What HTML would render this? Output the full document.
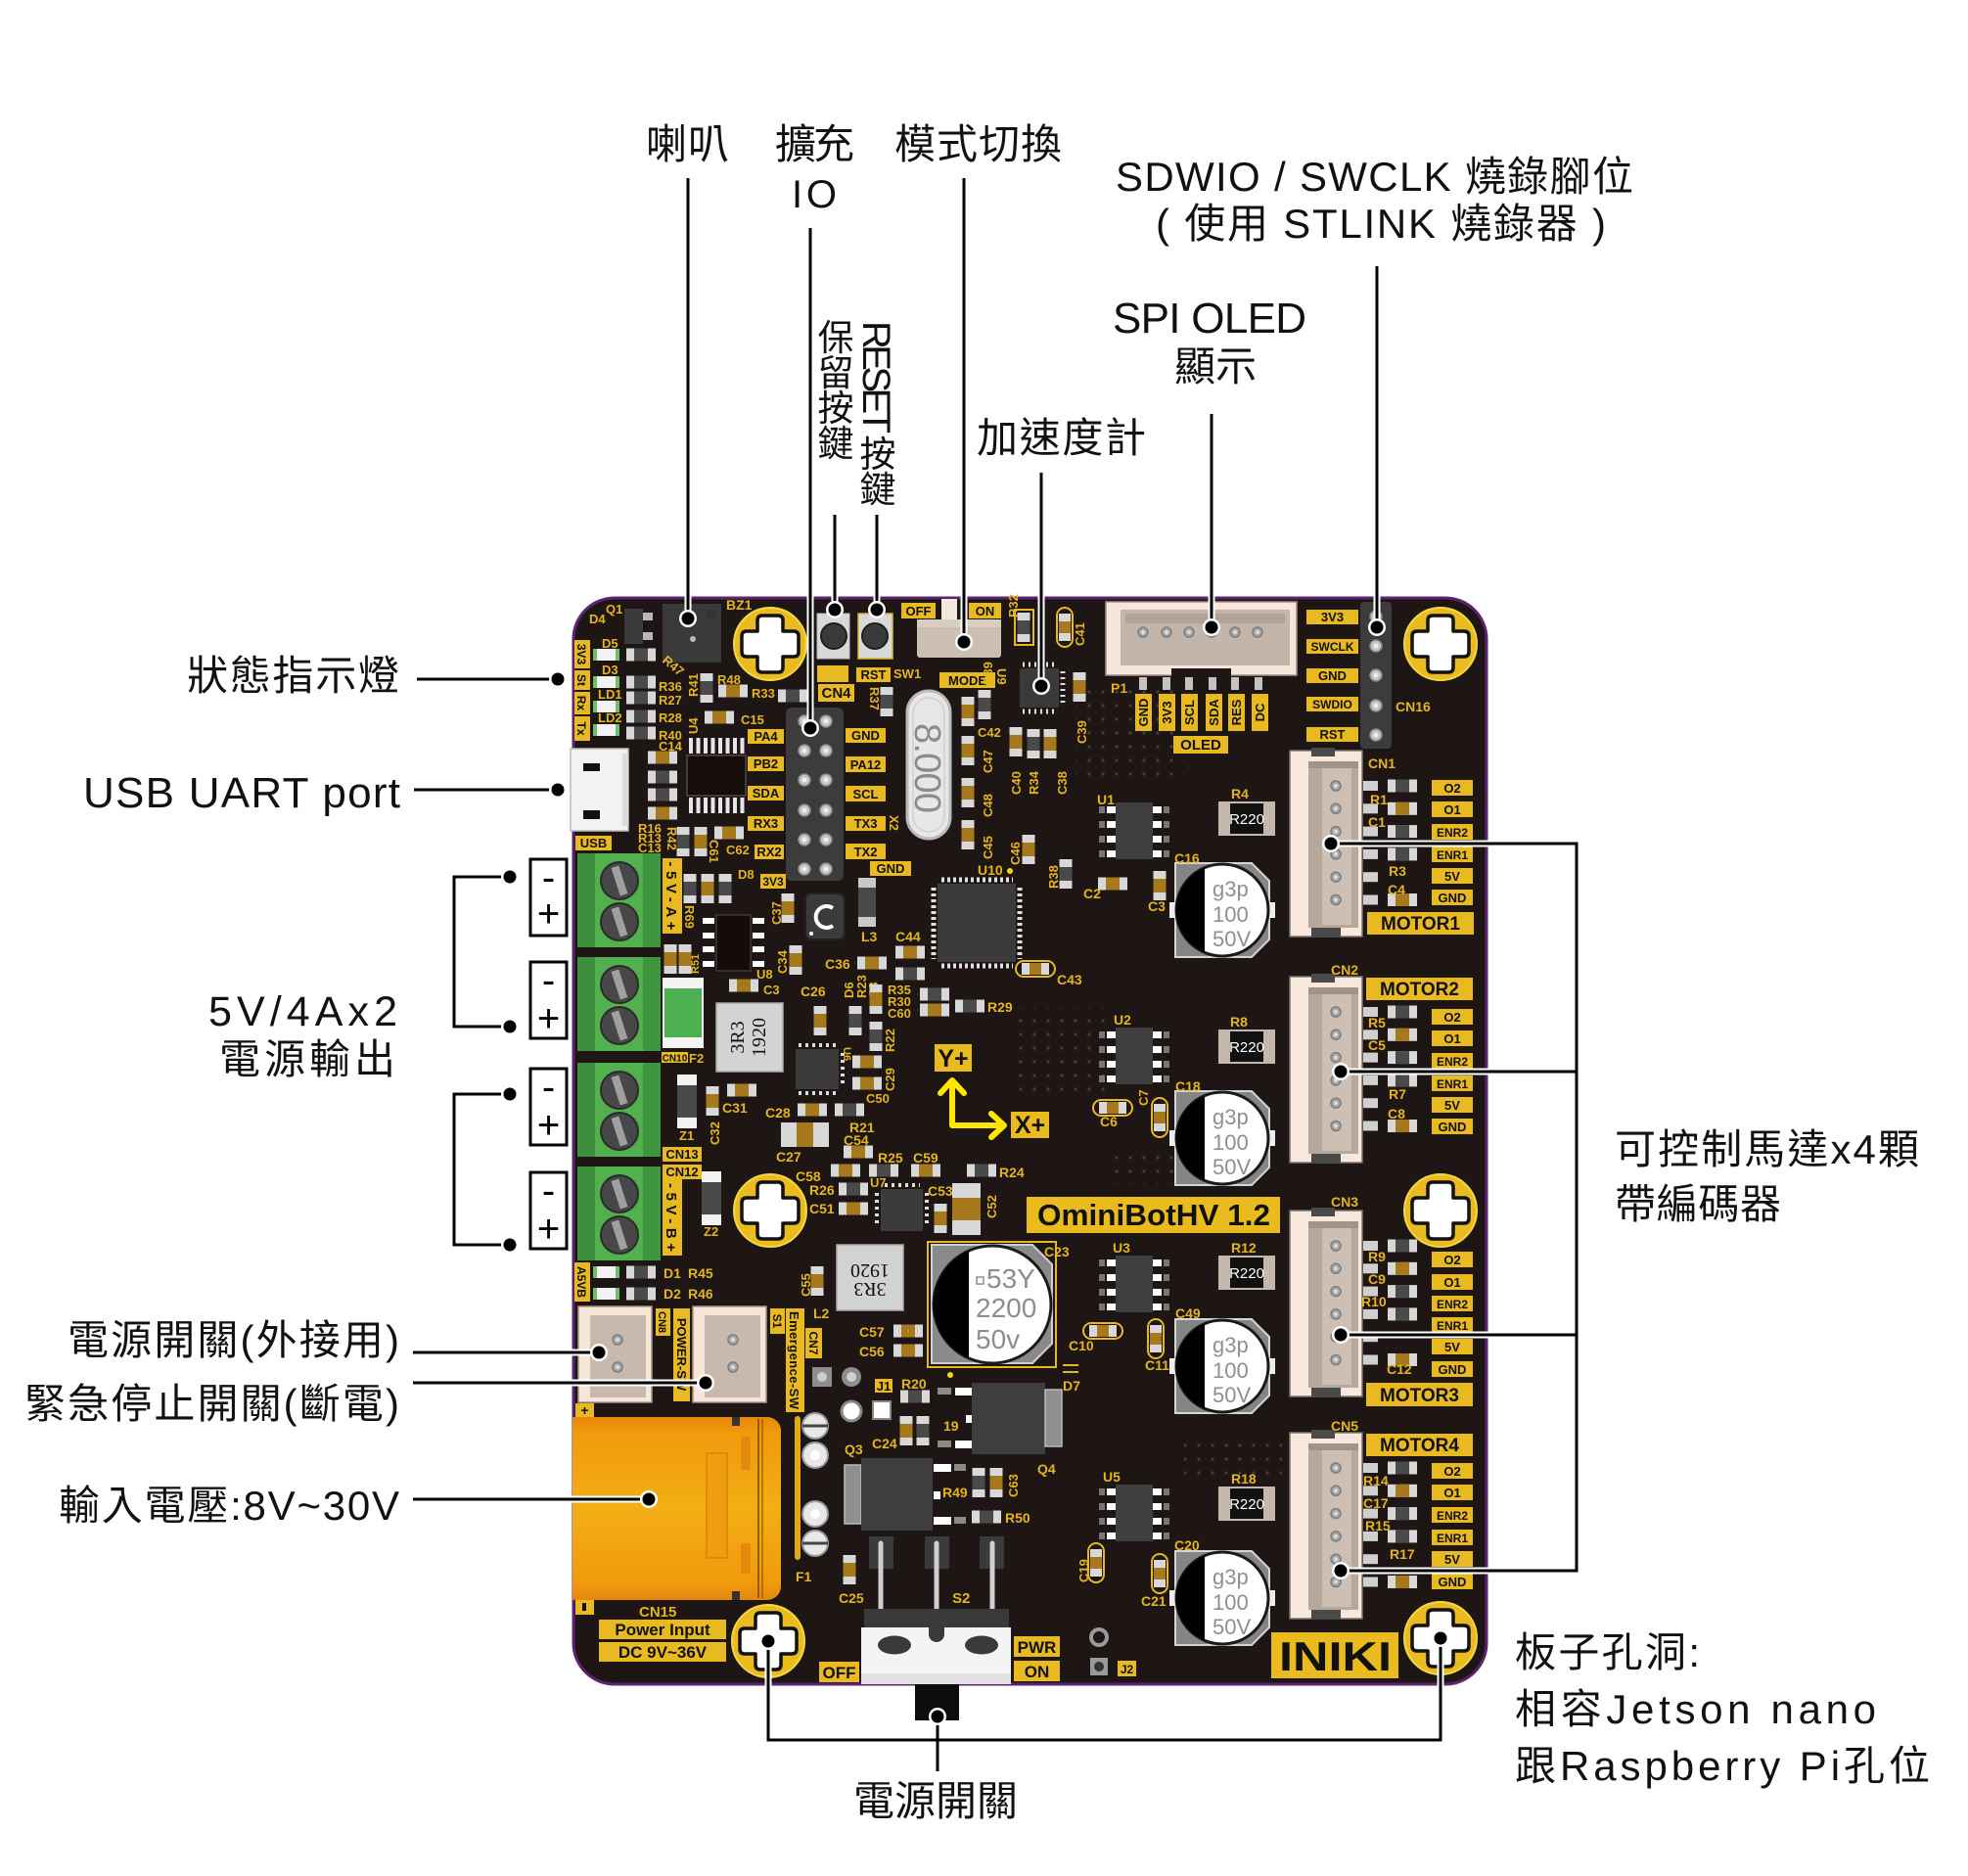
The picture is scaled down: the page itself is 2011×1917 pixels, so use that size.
<!DOCTYPE html>
<html><head><meta charset="utf-8">
<style>
html,body{margin:0;padding:0;background:#fff;}
svg{display:block;}
.lb{font-family:"Liberation Sans","Noto Sans CJK TC",sans-serif;fill:#111;}
.pk{font-family:"Liberation Sans",sans-serif;font-weight:bold;fill:#e4b421;}
.bx{font-family:"Liberation Sans",sans-serif;font-weight:bold;fill:#111;}
.yb{fill:#e8b920;}
</style></head><body>
<svg width="2011" height="1917" viewBox="0 0 2011 1917" font-size="13" xmlns="http://www.w3.org/2000/svg" xmlns:xlink="http://www.w3.org/1999/xlink">
<defs>
<g id="r"><rect x="-15" y="-6.5" width="30" height="13" fill="#d8d8d8"/><rect x="-7" y="-6.5" width="14" height="13" fill="#4a4a4a"/></g>
<g id="c"><rect x="-15" y="-6.5" width="30" height="13" fill="#d8d8d8"/><rect x="-7" y="-6.5" width="14" height="13" fill="#a67a1c"/></g>
<g id="co"><rect x="-20" y="-8" width="40" height="16" rx="8" fill="none" stroke="#e6b820" stroke-width="2"/><rect x="-14" y="-6" width="28" height="12" fill="#d8d8d8"/><rect x="-6" y="-6" width="12" height="12" fill="#a67a1c"/></g>
<g id="hole"><circle r="37" fill="#e9bb1f" stroke="#f6d645" stroke-width="2"/><path d="M-13,-24 Q-13,-29 -8,-29 H8 Q13,-29 13,-24 V-13 H24 Q29,-13 29,-8 V8 Q29,13 24,13 H13 V24 Q13,29 8,29 H-8 Q-13,29 -13,24 V13 H-24 Q-29,13 -29,8 V-8 Q-29,-13 -24,-13 H-13 Z" fill="#fff" stroke="#111" stroke-width="3.5" stroke-linejoin="round"/></g>
<g id="dot"><circle r="9" fill="#fff"/><circle r="6.5" fill="#000"/></g>
<g id="led"><rect width="27" height="12" fill="#f2f2f2"/><rect width="4" height="12" fill="#6fbf6a"/><rect x="23" width="4" height="12" fill="#6fbf6a"/></g>
<g id="tb"><rect width="85" height="96" fill="#52b04e"/><rect width="18" height="96" fill="#3b8e3c"/><rect x="67" width="18" height="96" fill="#3f9640"/>
<circle cx="43" cy="28" r="19" fill="#474747" stroke="#2b2b2b" stroke-width="2"/><rect x="39" y="13" width="8" height="30" fill="#a0a0a0" transform="rotate(-18 43 28)"/>
<circle cx="43" cy="70" r="19" fill="#474747" stroke="#2b2b2b" stroke-width="2"/><rect x="39" y="55" width="8" height="30" fill="#a0a0a0" transform="rotate(-18 43 70)"/></g>
<g id="so"><rect width="38" height="58" fill="#3f3f3f"/>
<rect x="-9" y="4" width="9" height="7" fill="#fff"/><rect x="-9" y="19" width="9" height="7" fill="#fff"/><rect x="-9" y="34" width="9" height="7" fill="#fff"/><rect x="-9" y="49" width="9" height="7" fill="#fff"/>
<rect x="-17" y="4" width="6" height="7" fill="#777"/><rect x="-17" y="19" width="6" height="7" fill="#777"/><rect x="-17" y="34" width="6" height="7" fill="#777"/><rect x="-17" y="49" width="6" height="7" fill="#777"/>
<rect x="38" y="4" width="9" height="7" fill="#fff"/><rect x="38" y="19" width="9" height="7" fill="#fff"/><rect x="38" y="34" width="9" height="7" fill="#fff"/><rect x="38" y="49" width="9" height="7" fill="#fff"/>
<rect x="49" y="4" width="6" height="7" fill="#777"/><rect x="49" y="19" width="6" height="7" fill="#777"/><rect x="49" y="34" width="6" height="7" fill="#777"/><rect x="49" y="49" width="6" height="7" fill="#777"/></g>
<g id="ec"><path d="M-48,-48 H30 L48,-30 V30 L30,48 H-48 Z" fill="#858585" stroke="#d5d5d5" stroke-width="2"/><rect x="-54" y="-8" width="7" height="16" fill="#eee"/><rect x="47" y="-8" width="7" height="16" fill="#eee"/><circle r="47" fill="#fff" stroke="#1a1a1a" stroke-width="3"/><path d="M-18,-43.4 A47,47 0 0,0 -18,43.4 Z" fill="#000"/></g>
<g id="mpin"><circle r="5" fill="#a8a8a8" stroke="#7c7c7c" stroke-width="1.5"/><circle r="2" fill="#dcdcdc"/></g>
<g id="mc"><rect x="0" y="0" width="74" height="190" fill="#f7e8db" stroke="#7d736c" stroke-width="1.5"/>
<rect x="19" y="11" width="51" height="170" fill="#b7a89c"/><rect x="33" y="14" width="30" height="164" fill="#cdbfb4"/><rect x="19" y="11" width="51" height="7" fill="#a1938a"/>
<rect x="22" y="-3" width="24" height="9" fill="#4a4a4a"/><rect x="22" y="181" width="30" height="10" fill="#4a4a4a"/>
<use href="#mpin" x="47" y="36"/><use href="#mpin" x="47" y="59.3"/><use href="#mpin" x="47" y="82.6"/><use href="#mpin" x="47" y="105.9"/><use href="#mpin" x="47" y="129.2"/><use href="#mpin" x="47" y="152.5"/>
<rect x="75" y="31" width="15" height="10" fill="#d0d0d0"/><rect x="75" y="54.3" width="15" height="10" fill="#d0d0d0"/><rect x="75" y="77.6" width="15" height="10" fill="#d0d0d0"/><rect x="75" y="100.9" width="15" height="10" fill="#d0d0d0"/><rect x="75" y="124.2" width="15" height="10" fill="#d0d0d0"/><rect x="75" y="147.5" width="15" height="10" fill="#d0d0d0"/>
<use href="#r" x="115" y="36"/><use href="#c" x="115" y="59.3"/><use href="#r" x="115" y="82.6"/><use href="#r" x="115" y="105.9"/><use href="#c" x="115" y="152.5"/></g>
<g id="pin"><circle r="6" fill="#c4c4c4" stroke="#8a8a8a" stroke-width="1.5"/><circle r="2.5" fill="#eee"/></g>
<g id="r220"><rect width="58" height="35" fill="#c4b8ac"/><rect x="12" y="2" width="34" height="31" fill="#111"/></g>
<pattern id="via" width="14" height="14" patternUnits="userSpaceOnUse"><circle cx="7" cy="7" r="1.6" fill="#463d39"/></pattern>
<linearGradient id="xt" x1="0" y1="0" x2="0" y2="1"><stop offset="0" stop-color="#e8870b"/><stop offset="0.09" stop-color="#f09a0d"/><stop offset="0.5" stop-color="#f3ae14"/><stop offset="0.91" stop-color="#f09a0d"/><stop offset="1" stop-color="#e6860b"/></linearGradient>
</defs>

<!-- ================= BOARD ================= -->
<rect x="586" y="611" width="933" height="1110" rx="42" fill="#1d1614" stroke="#5b2370" stroke-width="3"/>
<rect x="1040" y="1030" width="90" height="90" fill="url(#via)"/>
<rect x="1100" y="700" width="110" height="100" fill="url(#via)"/>
<rect x="1210" y="1470" width="100" height="40" fill="url(#via)"/>
<rect x="1130" y="1180" width="80" height="30" fill="url(#via)"/>

<!-- holes -->
<use href="#hole" x="787" y="658"/><use href="#hole" x="1472" y="658"/>
<use href="#hole" x="787" y="1237"/><use href="#hole" x="1472" y="1237"/>
<use href="#hole" x="785" y="1677"/><use href="#hole" x="1472" y="1674"/>

<!-- top-left: status LEDs, Q1, buzzer -->
<rect class="yb" x="587" y="654" width="16" height="29"/><rect class="yb" x="587" y="685" width="16" height="20"/><rect class="yb" x="587" y="707" width="16" height="23"/><rect class="yb" x="587" y="732" width="16" height="25"/>
<text class="bx" font-size="12" text-anchor="middle" transform="translate(590,668.5) rotate(90)">3V3</text>
<text class="bx" font-size="12" text-anchor="middle" transform="translate(590,695) rotate(90)">St</text>
<text class="bx" font-size="12" text-anchor="middle" transform="translate(590,718.5) rotate(90)">Rx</text>
<text class="bx" font-size="12" text-anchor="middle" transform="translate(590,744.5) rotate(90)">Tx</text>
<use href="#led" x="606" y="663"/><use href="#led" x="606" y="691"/><use href="#led" x="606" y="716"/><use href="#led" x="606" y="740"/>
<text class="pk" x="619" y="627">Q1</text><text class="pk" x="602" y="637">D4</text>
<text class="pk" x="615" y="662">D5</text><text class="pk" x="615" y="689">D3</text><text class="pk" x="611" y="714">LD1</text><text class="pk" x="611" y="738">LD2</text>
<rect x="638" y="622" width="19" height="36" fill="#3b3b3b"/><rect x="657" y="626" width="10" height="8" fill="#b8b8b8"/><rect x="657" y="646" width="10" height="8" fill="#b8b8b8"/>
<rect x="677" y="617" width="60" height="60" fill="#3a3a3a"/><circle cx="727" cy="628" r="5" fill="#333"/><circle cx="708" cy="653" r="3" fill="#bbb"/>
<text class="pk" x="742" y="623" font-size="14">BZ1</text>
<use href="#r" x="655" y="669"/><use href="#r" x="655" y="697"/><use href="#r" x="655" y="713"/><use href="#r" x="655" y="732"/><use href="#r" x="655" y="749"/>
<text class="pk" x="673" y="706">R36</text><text class="pk" x="673" y="720">R27</text><text class="pk" x="673" y="738">R28</text><text class="pk" x="673" y="756">R40</text><text class="pk" x="673" y="767">C14</text>
<text class="pk" transform="translate(676,676) rotate(40)">R47</text>
<text class="pk" transform="translate(713,712) rotate(-90)">R41</text>
<use href="#r" transform="translate(722,703) rotate(90)"/>
<text class="pk" x="733" y="699">R48</text><use href="#c" x="749" y="706"/>
<text class="pk" x="768" y="713">R33</text><use href="#r" x="810" y="711"/>
<use href="#c" x="735" y="733"/><text class="pk" x="757" y="740">C15</text>
<text class="pk" transform="translate(713,750) rotate(-90)">U4</text>
<!-- U4 chip -->
<rect x="702" y="772" width="60" height="41" fill="#150c0b" stroke="#4a4a4a" stroke-width="1.5"/>
<line x1="704" y1="762" x2="762" y2="762" stroke="#e6e6e6" stroke-width="16" stroke-dasharray="4 3.5"/>
<line x1="704" y1="823" x2="762" y2="823" stroke="#e6e6e6" stroke-width="16" stroke-dasharray="4 3.5"/>
<use href="#c" x="677" y="774"/><use href="#r" x="677" y="794"/><use href="#r" x="677" y="812"/><use href="#c" x="677" y="831"/>
<text class="pk" x="652" y="851">R16</text><text class="pk" x="652" y="861">R13</text><text class="pk" x="652" y="871">C13</text>
<text class="pk" transform="translate(682,845) rotate(90)">R42</text>
<use href="#r" transform="translate(698,860) rotate(90)"/><use href="#c" transform="translate(716,860) rotate(90)"/>
<text class="pk" transform="translate(725,858) rotate(90)">C61</text>
<use href="#c" x="745" y="851"/><text class="pk" x="742" y="873">C62</text>
<!-- USB -->
<rect x="583" y="765" width="59" height="84" fill="#f2f2f2" stroke="#bbb" stroke-width="1.5"/>
<rect x="636" y="770" width="6" height="74" fill="#dcdcdc"/>
<rect x="596" y="780" width="17" height="8" fill="#111"/><rect x="596" y="828" width="17" height="9" fill="#111"/>
<rect class="yb" x="588" y="854" width="37" height="15"/><text class="bx" x="606.5" y="866" text-anchor="middle">USB</text>

<!-- terminal blocks -->
<use href="#tb" x="590" y="872"/><use href="#tb" x="590" y="978"/><use href="#tb" x="590" y="1086"/><use href="#tb" x="590" y="1192"/>
<rect class="yb" x="677" y="877" width="20" height="77"/><text class="bx" font-size="15" text-anchor="middle" textLength="70" transform="translate(681,915.5) rotate(90)">-5V-A+</text>
<rect class="yb" x="677" y="1205" width="20" height="78"/><text class="bx" font-size="15" text-anchor="middle" textLength="70" transform="translate(681,1244) rotate(90)">-5V-B+</text>
<rect class="yb" x="677" y="1172" width="40" height="15"/><text class="bx" x="697" y="1184" text-anchor="middle">CN13</text>
<rect class="yb" x="677" y="1190" width="40" height="15"/><text class="bx" x="697" y="1202" text-anchor="middle">CN12</text>
<rect class="yb" x="676" y="1075" width="27" height="11"/><text class="bx" x="689.5" y="1084.5" text-anchor="middle" font-size="10">CN10</text><text class="pk" x="704" y="1086">F2</text>

<!-- D8 area -->
<use href="#r" transform="translate(705,908) rotate(90)"/><use href="#c" transform="translate(723,908) rotate(90)"/><use href="#r" transform="translate(741,908) rotate(90)"/>
<text class="pk" x="754" y="898">D8</text>
<rect class="yb" x="777" y="893" width="26" height="15"/><text class="bx" x="790" y="905" text-anchor="middle" font-size="12">3V3</text>
<text class="pk" transform="translate(700,925) rotate(90)">R69</text>
<use href="#c" transform="translate(685,980) rotate(90)"/><use href="#c" transform="translate(700,980) rotate(90)"/>
<rect x="732" y="935" width="35" height="57" fill="#150b0a" stroke="#3a3a3a" stroke-width="1.5"/>
<rect x="718" y="938" width="12" height="6" fill="#fff"/><rect x="718" y="953" width="12" height="6" fill="#fff"/><rect x="718" y="967" width="12" height="6" fill="#fff"/><rect x="718" y="982" width="12" height="6" fill="#fff"/>
<rect x="769" y="938" width="12" height="6" fill="#fff"/><rect x="769" y="953" width="12" height="6" fill="#fff"/><rect x="769" y="967" width="12" height="6" fill="#fff"/><rect x="769" y="982" width="12" height="6" fill="#fff"/>
<text class="pk" x="773" y="1000">U8</text><use href="#c" x="760" y="1007"/><text class="pk" x="780" y="1016">C3</text>
<text class="pk" transform="translate(714,995) rotate(-90)" font-size="11">R51</text>
<!-- F2 green fuse -->
<rect x="678" y="1000" width="40" height="70" fill="#4caf50" stroke="#eee" stroke-width="2"/><rect x="678" y="1000" width="40" height="10" fill="#f4f4f4"/><rect x="678" y="1060" width="40" height="10" fill="#f4f4f4"/>
<!-- L1 -->
<rect x="732" y="1025" width="68" height="70" fill="#d3d3d3" stroke="#aaa" stroke-width="1.5"/>
<text x="0" y="0" font-family="Liberation Serif, serif" font-size="20" fill="#111" text-anchor="middle" transform="translate(760,1060) rotate(-90)">3R3</text>
<text x="0" y="0" font-family="Liberation Serif, serif" font-size="20" fill="#111" text-anchor="middle" transform="translate(782,1060) rotate(-90)">1920</text>

<!-- header CN4 -->
<rect x="803" y="723" width="59" height="177" rx="6" fill="#3c3c3c"/>
<use href="#pin" x="822" y="737"/><use href="#pin" x="844" y="737"/><use href="#pin" x="822" y="767"/><use href="#pin" x="844" y="767"/>
<use href="#pin" x="822" y="797"/><use href="#pin" x="844" y="797"/><use href="#pin" x="822" y="828"/><use href="#pin" x="844" y="828"/>
<use href="#pin" x="822" y="858"/><use href="#pin" x="844" y="858"/><use href="#pin" x="822" y="888"/><use href="#pin" x="844" y="888"/>
<rect class="yb" x="764" y="745" width="37" height="15"/><text class="bx" x="782.5" y="757" text-anchor="middle">PA4</text>
<rect class="yb" x="764" y="773" width="37" height="15"/><text class="bx" x="782.5" y="785" text-anchor="middle">PB2</text>
<rect class="yb" x="764" y="803" width="37" height="15"/><text class="bx" x="782.5" y="815" text-anchor="middle">SDA</text>
<rect class="yb" x="764" y="834" width="37" height="15"/><text class="bx" x="782.5" y="846" text-anchor="middle">RX3</text>
<rect class="yb" x="771" y="863" width="30" height="15"/><text class="bx" x="786" y="875" text-anchor="middle">RX2</text>
<rect class="yb" x="864" y="744" width="41" height="15"/><text class="bx" x="884.5" y="756" text-anchor="middle">GND</text>
<rect class="yb" x="864" y="773" width="41" height="16"/><text class="bx" x="884.5" y="786" text-anchor="middle">PA12</text>
<rect class="yb" x="864" y="803" width="41" height="16"/><text class="bx" x="884.5" y="816" text-anchor="middle">SCL</text>
<rect class="yb" x="864" y="834" width="41" height="15"/><text class="bx" x="884.5" y="846" text-anchor="middle">TX3</text>
<rect class="yb" x="864" y="862" width="41" height="16"/><text class="bx" x="884.5" y="875" text-anchor="middle">TX2</text>
<rect class="yb" x="889" y="880" width="42" height="15"/><text class="bx" x="910" y="892" text-anchor="middle">GND</text>
<text class="pk" transform="translate(909,833) rotate(90)">X2</text>
<!-- buttons -->
<rect x="835" y="627" width="33" height="46" fill="#d8d8d8" stroke="#bdbdbd"/><circle cx="852" cy="650" r="13" fill="#3a3a3a" stroke="#1e1e1e" stroke-width="2"/>
<rect x="877" y="627" width="35" height="46" fill="#d8d8d8" stroke="#d8b730" stroke-width="1.5"/><circle cx="894" cy="650" r="13" fill="#3a3a3a" stroke="#1e1e1e" stroke-width="2"/>
<rect class="yb" x="835" y="680" width="32" height="17"/>
<rect class="yb" x="875" y="682" width="35" height="15"/><text class="bx" x="892.5" y="694" text-anchor="middle">RST</text><text class="pk" x="913" y="693">SW1</text>
<rect class="yb" x="836" y="699" width="37" height="18"/><text class="bx" x="854.5" y="713" text-anchor="middle" font-size="15">CN4</text>
<use href="#r" transform="translate(906,717) rotate(90)"/><text class="pk" transform="translate(889,702) rotate(90)">R37</text>
<!-- MODE switch -->
<rect class="yb" x="921" y="616" width="35" height="16"/><text class="bx" x="938.5" y="629" text-anchor="middle">OFF</text>
<rect class="yb" x="990" y="616" width="33" height="16"/><text class="bx" x="1006.5" y="629" text-anchor="middle">ON</text>
<rect x="962" y="612" width="16" height="22" fill="#f3e8dc"/>
<rect x="937" y="633" width="86" height="39" rx="3" fill="#cbbfb2"/><rect x="937" y="633" width="86" height="8" fill="#d8cdc1"/>
<rect class="yb" x="960" y="687" width="57" height="16"/><text class="bx" x="988.5" y="700" text-anchor="middle">MODE</text>
<text class="pk" transform="translate(1019,683) rotate(90)">U9</text>
<!-- crystal -->
<rect x="927" y="706" width="44" height="151" rx="22" fill="#e7e7e7" stroke="#b9b9b9" stroke-width="3"/>
<rect x="933" y="713" width="32" height="137" rx="16" fill="none" stroke="#d0d0d0" stroke-width="1.5"/>
<text font-family="Liberation Sans, sans-serif" font-size="38" fill="#8c8c8c" textLength="92" transform="translate(935,739) rotate(90)">8.000</text>
<use href="#c" transform="translate(989,727) rotate(90)"/><use href="#c" transform="translate(989,767) rotate(90)"/><use href="#c" transform="translate(989,810) rotate(90)"/><use href="#c" transform="translate(989,853) rotate(90)"/>
<use href="#r" transform="translate(1006,720) rotate(90)"/>
<text class="pk" x="999" y="753">C42</text>
<text class="pk" transform="translate(1014,700) rotate(-90)">R39</text>
<text class="pk" transform="translate(1014,790) rotate(-90)">C47</text>
<text class="pk" transform="translate(1014,835) rotate(-90)">C48</text>
<text class="pk" transform="translate(1014,878) rotate(-90)">C45</text>
<use href="#c" transform="translate(1038,758) rotate(90)"/><use href="#r" transform="translate(1056,760) rotate(90)"/><use href="#c" transform="translate(1073,760) rotate(90)"/>
<text class="pk" transform="translate(1043,812) rotate(-90)">C40</text><text class="pk" transform="translate(1061,812) rotate(-90)">R34</text><text class="pk" transform="translate(1090,812) rotate(-90)">C38</text>
<use href="#c" transform="translate(1051,868) rotate(90)"/><text class="pk" transform="translate(1042,884) rotate(-90)">C46</text>
<use href="#r" transform="translate(1089,893) rotate(90)"/><text class="pk" transform="translate(1081,908) rotate(-90)">R38</text>
<!-- R32 C41 U9 -->
<rect x="1037" y="623" width="19" height="36" fill="none" stroke="#e6b820" stroke-width="2"/>
<use href="#r" transform="translate(1046,641) rotate(90)"/><text class="pk" transform="translate(1040,631) rotate(-90)">R32</text>
<use href="#co" transform="translate(1088,641) rotate(90)"/><text class="pk" transform="translate(1108,660) rotate(-90)">C41</text>
<rect x="1042" y="683" width="40" height="40" fill="#3a3a3a"/>
<line x1="1045" y1="679" x2="1080" y2="679" stroke="#ddd" stroke-width="5" stroke-dasharray="2 4"/><line x1="1045" y1="727" x2="1080" y2="727" stroke="#ddd" stroke-width="5" stroke-dasharray="2 4"/>
<line x1="1086" y1="686" x2="1086" y2="720" stroke="#ddd" stroke-width="5" stroke-dasharray="2 4"/>
<use href="#c" transform="translate(1103,702) rotate(90)"/><text class="pk" transform="translate(1110,760) rotate(-90)">C39</text>
<!-- MCU U10 -->
<text class="pk" x="999" y="894" font-size="14">U10</text><circle cx="1032" cy="890" r="3" fill="#f5d80a"/>
<rect x="958" y="903" width="80" height="80" fill="#3b3b3b"/>
<line x1="962" y1="899" x2="1035" y2="899" stroke="#e0e0e0" stroke-width="5" stroke-dasharray="3 3"/>
<line x1="962" y1="987" x2="1035" y2="987" stroke="#e0e0e0" stroke-width="5" stroke-dasharray="3 3"/>
<line x1="954" y1="907" x2="954" y2="980" stroke="#e0e0e0" stroke-width="5" stroke-dasharray="3 3"/>
<line x1="1042" y1="907" x2="1042" y2="980" stroke="#e0e0e0" stroke-width="5" stroke-dasharray="3 3"/>
<!-- C inductor, L3 -->
<use href="#c" transform="translate(805,928) rotate(90)"/><text class="pk" transform="translate(798,945) rotate(-90)">C37</text>
<rect x="823" y="913" width="40" height="47" rx="6" fill="#3b3b3b" stroke="#222" stroke-width="2"/>
<path d="M851,928 A11,11 0 1,0 851,946" fill="none" stroke="#fff" stroke-width="4"/><circle cx="829" cy="954" r="2" fill="#fff"/>
<rect x="877" y="897" width="18" height="50" fill="#c9c9c9"/><rect x="877" y="907" width="18" height="30" fill="#4a4a4a"/><text class="pk" x="880" y="962" font-size="14">L3</text>
<use href="#c" x="930" y="973"/><use href="#r" x="930" y="995"/><text class="pk" x="915" y="962" font-size="14">C44</text>
<use href="#co" x="1058" y="990"/><text class="pk" x="1080" y="1006" font-size="14">C43</text>
<!-- middle area -->
<use href="#c" transform="translate(813,981) rotate(90)"/><text class="pk" transform="translate(804,995) rotate(-90)">C34</text>
<use href="#c" x="891" y="984"/><text class="pk" x="843" y="990" font-size="14">C36</text>
<text class="pk" x="818" y="1018" font-size="14">C26</text>
<use href="#c" transform="translate(838,1043) rotate(90)"/><use href="#r" transform="translate(874,1043) rotate(90)"/>
<text class="pk" transform="translate(872,1020) rotate(-90)">D6</text><text class="pk" transform="translate(885,1020) rotate(-90)">R23</text><text class="pk" transform="translate(897,1020) rotate(-90)">C3</text>
<use href="#c" transform="translate(895,1021) rotate(90)"/><use href="#r" transform="translate(895,1059) rotate(90)"/>
<text class="pk" x="907" y="1016">R35</text><text class="pk" x="907" y="1028">R30</text><text class="pk" x="907" y="1040">C60</text>
<use href="#r" x="955" y="1016"/><use href="#c" x="955" y="1032"/><use href="#r" x="991" y="1028"/><text class="pk" x="1009" y="1034" font-size="14">R29</text>
<text class="pk" transform="translate(914,1075) rotate(-90)">R22</text><text class="pk" transform="translate(914,1115) rotate(-90)">C29</text>
<rect x="813" y="1072" width="44" height="41" fill="#3b3b3b"/>
<line x1="816" y1="1068" x2="854" y2="1068" stroke="#ddd" stroke-width="4" stroke-dasharray="3 4"/><line x1="816" y1="1117" x2="854" y2="1117" stroke="#ddd" stroke-width="4" stroke-dasharray="3 4"/>
<line x1="861" y1="1076" x2="861" y2="1110" stroke="#ddd" stroke-width="4" stroke-dasharray="3 4"/>
<text class="pk" transform="translate(862,1070) rotate(90)" font-size="11">U6</text>
<use href="#c" x="886" y="1085"/><use href="#c" x="886" y="1107"/><text class="pk" x="885" y="1127">C50</text>
<rect x="692" y="1098" width="20" height="55" fill="#4a4a4a"/><rect x="692" y="1098" width="20" height="11" fill="#f2f2f2"/><rect x="692" y="1142" width="20" height="11" fill="#f2f2f2"/><text class="pk" x="694" y="1165">Z1</text>
<rect x="717" y="1197" width="20" height="55" fill="#4a4a4a"/><rect x="717" y="1197" width="20" height="11" fill="#f2f2f2"/><rect x="717" y="1241" width="20" height="11" fill="#f2f2f2"/><text class="pk" x="719" y="1263">Z2</text>
<use href="#c" transform="translate(728,1125) rotate(90)"/><use href="#c" x="758" y="1114"/><text class="pk" x="738" y="1137" font-size="14">C31</text>
<text class="pk" transform="translate(735,1170) rotate(-90)">C32</text>
<text class="pk" x="782" y="1142" font-size="14">C28</text><use href="#c" x="830" y="1134"/><use href="#r" x="868" y="1134"/>
<rect x="798" y="1147" width="49" height="25" fill="#d8d8d8"/><rect x="814" y="1147" width="17" height="25" fill="#a67a1c"/>
<text class="pk" x="868" y="1157" font-size="14">R21</text><text class="pk" x="862" y="1170" font-size="14">C54</text>
<use href="#c" x="877" y="1177"/><use href="#c" x="864" y="1196"/><use href="#r" x="903" y="1196"/><use href="#c" x="946" y="1196"/><use href="#r" x="1003" y="1196"/>
<text class="pk" x="897" y="1188" font-size="14">R25</text><text class="pk" x="933" y="1188" font-size="14">C59</text><text class="pk" x="1021" y="1203" font-size="14">R24</text>
<text class="pk" x="793" y="1187" font-size="14">C27</text><text class="pk" x="813" y="1207" font-size="14">C58</text>
<use href="#r" x="872" y="1215"/><use href="#c" x="872" y="1235"/><text class="pk" x="827" y="1221" font-size="14">R26</text><text class="pk" x="827" y="1240" font-size="14">C51</text>
<text class="pk" x="889" y="1213">U7</text>
<rect x="900" y="1215" width="43" height="43" fill="#3b3b3b"/>
<line x1="904" y1="1211" x2="940" y2="1211" stroke="#ddd" stroke-width="4" stroke-dasharray="3 4"/><line x1="896" y1="1219" x2="896" y2="1254" stroke="#ddd" stroke-width="4" stroke-dasharray="3 4"/><line x1="947" y1="1219" x2="947" y2="1254" stroke="#ddd" stroke-width="4" stroke-dasharray="3 4"/>
<use href="#c" transform="translate(961,1245) rotate(90)"/><text class="pk" x="948" y="1222" font-size="14">C53</text>
<rect x="973" y="1209" width="29" height="53" fill="#d8d8d8"/><rect x="973" y="1224" width="29" height="23" fill="#a67a1c"/>
<text class="pk" transform="translate(1018,1245) rotate(-90)">C52</text>
<!-- Y+ X+ -->
<path d="M973,1104 V1150 H1024" fill="none" stroke="#ffe600" stroke-width="6" stroke-linejoin="round"/>
<path d="M961,1117 L973,1104 L985,1117" fill="none" stroke="#ffe600" stroke-width="6" stroke-linecap="round" stroke-linejoin="round"/>
<path d="M1013,1138 L1026,1150 L1013,1162" fill="none" stroke="#ffe600" stroke-width="6" stroke-linecap="round" stroke-linejoin="round"/>
<rect x="955" y="1067" width="38" height="28" fill="#e9bb1e"/><text class="bx" x="974" y="1090" text-anchor="middle" font-size="25">Y+</text>
<rect x="1033" y="1136" width="39" height="27" fill="#e9bb1e"/><text class="bx" x="1052.5" y="1158" text-anchor="middle" font-size="25">X+</text>

<!-- OLED connector -->
<rect x="1130" y="615" width="195" height="75" fill="#f6e7da" stroke="#9e9088" stroke-width="1.5"/>
<rect x="1145" y="623" width="173" height="57" fill="#c4b5aa"/><rect x="1150" y="627" width="163" height="10" fill="#b1a297"/>
<rect x="1197" y="683" width="61" height="8" fill="#1d1614"/>
<use href="#mpin" x="1168" y="646"/><use href="#mpin" x="1192" y="646"/><use href="#mpin" x="1215" y="646"/><use href="#mpin" x="1238" y="646"/><use href="#mpin" x="1262" y="646"/><use href="#mpin" x="1285" y="646"/>
<rect x="1164" y="692" width="8" height="13" fill="#c3c3c3"/><rect x="1188" y="692" width="8" height="13" fill="#c3c3c3"/><rect x="1211" y="692" width="8" height="13" fill="#c3c3c3"/><rect x="1235" y="692" width="8" height="13" fill="#c3c3c3"/><rect x="1258" y="692" width="8" height="13" fill="#c3c3c3"/><rect x="1282" y="692" width="8" height="13" fill="#c3c3c3"/>
<rect class="yb" x="1160" y="709" width="17" height="38"/><text class="bx" text-anchor="middle" transform="translate(1173,728) rotate(-90)">GND</text>
<rect class="yb" x="1184" y="709" width="17" height="38"/><text class="bx" text-anchor="middle" transform="translate(1197,728) rotate(-90)">3V3</text>
<rect class="yb" x="1207" y="709" width="17" height="38"/><text class="bx" text-anchor="middle" transform="translate(1220,728) rotate(-90)">SCL</text>
<rect class="yb" x="1232" y="709" width="17" height="38"/><text class="bx" text-anchor="middle" transform="translate(1245,728) rotate(-90)">SDA</text>
<rect class="yb" x="1255" y="709" width="17" height="38"/><text class="bx" text-anchor="middle" transform="translate(1268,728) rotate(-90)">RES</text>
<rect class="yb" x="1279" y="709" width="17" height="38"/><text class="bx" text-anchor="middle" transform="translate(1292,728) rotate(-90)">DC</text>
<rect class="yb" x="1199" y="752" width="56" height="18"/><text class="bx" x="1227" y="766" text-anchor="middle" font-size="15">OLED</text>
<text class="pk" x="1135" y="708" font-size="14">P1</text>
<!-- CN16 -->
<rect x="1390" y="615" width="32" height="150" rx="4" fill="#3c3c3c"/>
<use href="#pin" x="1406" y="630"/><use href="#pin" x="1406" y="660"/><use href="#pin" x="1406" y="690"/><use href="#pin" x="1406" y="721"/><use href="#pin" x="1406" y="751"/>
<rect class="yb" x="1335" y="623" width="53" height="15"/><text class="bx" x="1361.5" y="635" text-anchor="middle">3V3</text>
<rect class="yb" x="1335" y="653" width="53" height="15"/><text class="bx" x="1361.5" y="665" text-anchor="middle" font-size="12">SWCLK</text>
<rect class="yb" x="1335" y="683" width="53" height="15"/><text class="bx" x="1361.5" y="695" text-anchor="middle">GND</text>
<rect class="yb" x="1335" y="712" width="53" height="15"/><text class="bx" x="1361.5" y="724" text-anchor="middle" font-size="12">SWDIO</text>
<rect class="yb" x="1335" y="743" width="53" height="15"/><text class="bx" x="1361.5" y="755" text-anchor="middle">RST</text>
<text class="pk" x="1426" y="727" font-size="14">CN16</text>

<!-- motor sections -->
<use href="#mc" x="1318" y="767"/><use href="#mc" x="1318" y="998"/><use href="#mc" x="1318" y="1237"/><use href="#mc" x="1318" y="1464"/>
<text class="pk" x="1398" y="785" font-size="14">CN1</text><text class="pk" x="1360" y="996" font-size="14">CN2</text><text class="pk" x="1360" y="1233" font-size="14">CN3</text><text class="pk" x="1360" y="1462" font-size="14">CN5</text>
<text class="pk" x="1400" y="822" font-size="14">R1</text><text class="pk" x="1398" y="845" font-size="14">C1</text><text class="pk" x="1419" y="895" font-size="14">R3</text><text class="pk" x="1418" y="914" font-size="14">C4</text>
<text class="pk" x="1398" y="1050" font-size="14">R5</text><text class="pk" x="1398" y="1073" font-size="14">C5</text><text class="pk" x="1419" y="1123" font-size="14">R7</text><text class="pk" x="1418" y="1143" font-size="14">C8</text>
<text class="pk" x="1398" y="1289" font-size="14">R9</text><text class="pk" x="1398" y="1312" font-size="14">C9</text><text class="pk" x="1391" y="1335" font-size="14">R10</text><text class="pk" x="1417" y="1404" font-size="14">C12</text>
<text class="pk" x="1393" y="1518" font-size="14">R14</text><text class="pk" x="1393" y="1541" font-size="14">C17</text><text class="pk" x="1395" y="1564" font-size="14">R15</text><text class="pk" x="1420" y="1593" font-size="14">R17</text>
<!-- motor label boxes -->
<g>
<rect class="yb" x="1463" y="797" width="42" height="16"/><text class="bx" x="1484" y="810" text-anchor="middle">O2</text>
<rect class="yb" x="1463" y="819" width="42" height="16"/><text class="bx" x="1484" y="832" text-anchor="middle">O1</text>
<rect class="yb" x="1463" y="842" width="42" height="16"/><text class="bx" x="1484" y="855" text-anchor="middle" font-size="12">ENR2</text>
<rect class="yb" x="1463" y="865" width="42" height="16"/><text class="bx" x="1484" y="878" text-anchor="middle" font-size="12">ENR1</text>
<rect class="yb" x="1463" y="887" width="42" height="16"/><text class="bx" x="1484" y="900" text-anchor="middle">5V</text>
<rect class="yb" x="1463" y="909" width="42" height="16"/><text class="bx" x="1484" y="922" text-anchor="middle">GND</text>
<rect class="yb" x="1397" y="932" width="109" height="23"/><text class="bx" x="1451.5" y="950" text-anchor="middle" font-size="19">MOTOR1</text>

<rect class="yb" x="1396" y="999" width="109" height="23"/><text class="bx" x="1450.5" y="1017" text-anchor="middle" font-size="19">MOTOR2</text>
<rect class="yb" x="1463" y="1031" width="42" height="16"/><text class="bx" x="1484" y="1044" text-anchor="middle">O2</text>
<rect class="yb" x="1463" y="1053" width="42" height="16"/><text class="bx" x="1484" y="1066" text-anchor="middle">O1</text>
<rect class="yb" x="1463" y="1076" width="42" height="16"/><text class="bx" x="1484" y="1089" text-anchor="middle" font-size="12">ENR2</text>
<rect class="yb" x="1463" y="1099" width="42" height="16"/><text class="bx" x="1484" y="1112" text-anchor="middle" font-size="12">ENR1</text>
<rect class="yb" x="1463" y="1121" width="42" height="16"/><text class="bx" x="1484" y="1134" text-anchor="middle">5V</text>
<rect class="yb" x="1463" y="1143" width="42" height="16"/><text class="bx" x="1484" y="1156" text-anchor="middle">GND</text>

<rect class="yb" x="1463" y="1279" width="42" height="16"/><text class="bx" x="1484" y="1292" text-anchor="middle">O2</text>
<rect class="yb" x="1463" y="1302" width="42" height="16"/><text class="bx" x="1484" y="1315" text-anchor="middle">O1</text>
<rect class="yb" x="1463" y="1324" width="42" height="16"/><text class="bx" x="1484" y="1337" text-anchor="middle" font-size="12">ENR2</text>
<rect class="yb" x="1463" y="1346" width="42" height="16"/><text class="bx" x="1484" y="1359" text-anchor="middle" font-size="12">ENR1</text>
<rect class="yb" x="1463" y="1368" width="42" height="16"/><text class="bx" x="1484" y="1381" text-anchor="middle">5V</text>
<rect class="yb" x="1463" y="1391" width="42" height="16"/><text class="bx" x="1484" y="1404" text-anchor="middle">GND</text>
<rect class="yb" x="1396" y="1413" width="109" height="24"/><text class="bx" x="1450.5" y="1432" text-anchor="middle" font-size="19">MOTOR3</text>

<rect class="yb" x="1396" y="1465" width="109" height="23"/><text class="bx" x="1450.5" y="1483" text-anchor="middle" font-size="19">MOTOR4</text>
<rect class="yb" x="1463" y="1495" width="42" height="16"/><text class="bx" x="1484" y="1508" text-anchor="middle">O2</text>
<rect class="yb" x="1463" y="1517" width="42" height="16"/><text class="bx" x="1484" y="1530" text-anchor="middle">O1</text>
<rect class="yb" x="1463" y="1540" width="42" height="16"/><text class="bx" x="1484" y="1553" text-anchor="middle" font-size="12">ENR2</text>
<rect class="yb" x="1463" y="1563" width="42" height="16"/><text class="bx" x="1484" y="1576" text-anchor="middle" font-size="12">ENR1</text>
<rect class="yb" x="1463" y="1585" width="42" height="16"/><text class="bx" x="1484" y="1598" text-anchor="middle">5V</text>
<rect class="yb" x="1463" y="1608" width="42" height="16"/><text class="bx" x="1484" y="1621" text-anchor="middle">GND</text>
</g>
<!-- drivers -->
<use href="#so" x="1140" y="820"/><use href="#so" x="1140" y="1050"/><use href="#so" x="1140" y="1283"/><use href="#so" x="1140" y="1517"/>
<text class="pk" x="1121" y="822" font-size="14">U1</text><text class="pk" x="1138" y="1047" font-size="14">U2</text><text class="pk" x="1137" y="1280" font-size="14">U3</text><text class="pk" x="1127" y="1514" font-size="14">U5</text>
<use href="#r220" x="1245" y="819"/><use href="#r220" x="1245" y="1052"/><use href="#r220" x="1245" y="1283"/><use href="#r220" x="1245" y="1519"/>
<g font-family="Liberation Sans, sans-serif" font-size="15" fill="#fff" text-anchor="middle">
<text x="1274" y="842">R220</text><text x="1274" y="1075">R220</text><text x="1274" y="1306">R220</text><text x="1274" y="1542">R220</text></g>
<text class="pk" x="1258" y="816" font-size="14">R4</text><text class="pk" x="1257" y="1049" font-size="14">R8</text><text class="pk" x="1258" y="1280" font-size="14">R12</text><text class="pk" x="1258" y="1516" font-size="14">R18</text>
<!-- electrolytic caps -->
<use href="#ec" x="1249" y="930"/><use href="#ec" x="1249" y="1163"/><use href="#ec" x="1249" y="1396"/><use href="#ec" x="1249" y="1633"/>
<g font-family="Liberation Sans, sans-serif" font-size="22" fill="#8f8f8f">
<text x="1239" y="916">g3p</text><text x="1239" y="942">100</text><text x="1239" y="967">50V</text>
<text x="1239" y="1149">g3p</text><text x="1239" y="1175">100</text><text x="1239" y="1200">50V</text>
<text x="1239" y="1382">g3p</text><text x="1239" y="1408">100</text><text x="1239" y="1433">50V</text>
<text x="1239" y="1619">g3p</text><text x="1239" y="1645">100</text><text x="1239" y="1670">50V</text></g>
<text class="pk" x="1200" y="882" font-size="14">C16</text><text class="pk" x="1201" y="1115" font-size="14">C18</text><text class="pk" x="1201" y="1347" font-size="14">C49</text><text class="pk" x="1200" y="1584" font-size="14">C20</text>
<use href="#c" x="1137" y="903"/><text class="pk" x="1107" y="918" font-size="14">C2</text>
<use href="#c" transform="translate(1185,905) rotate(90)"/><text class="pk" x="1173" y="931" font-size="14">C3</text>
<use href="#co" x="1137" y="1132"/><text class="pk" x="1124" y="1151" font-size="14">C6</text>
<use href="#co" transform="translate(1185,1142) rotate(90)"/><text class="pk" transform="translate(1173,1130) rotate(-90)">C7</text>
<use href="#co" x="1127" y="1360"/><text class="pk" x="1092" y="1380" font-size="14">C10</text>
<use href="#co" transform="translate(1181,1368) rotate(90)"/><text class="pk" x="1170" y="1400" font-size="14">C11</text>
<use href="#co" transform="translate(1120,1597) rotate(90)"/><text class="pk" transform="translate(1112,1617) rotate(-90)">C19</text>
<use href="#co" transform="translate(1185,1608) rotate(90)"/><text class="pk" x="1166" y="1641" font-size="14">C21</text>
<!-- OminiBotHV -->
<rect x="1049" y="1223" width="259" height="37" fill="#e9bb1e"/>
<text class="bx" x="1060" y="1252" font-size="31" textLength="238" lengthAdjust="spacingAndGlyphs">OminiBotHV 1.2</text>

<!-- bottom-left: D1/D2, connectors, XT60 -->
<rect class="yb" x="587" y="1290" width="16" height="40"/><text class="bx" font-size="12" text-anchor="middle" transform="translate(590,1310) rotate(90)">A5VB</text>
<use href="#led" x="606" y="1294"/><use href="#led" x="606" y="1316"/>
<use href="#r" x="655" y="1300"/><use href="#r" x="655" y="1322"/>
<text class="pk" x="678" y="1306" font-size="14">D1</text><text class="pk" x="703" y="1306" font-size="14">R45</text>
<text class="pk" x="678" y="1327" font-size="14">D2</text><text class="pk" x="703" y="1327" font-size="14">R46</text>
<rect x="591" y="1335" width="75" height="98" fill="#f5e6d8" stroke="#a39588" stroke-width="1.5"/><rect x="603" y="1344" width="57" height="84" fill="#c7b9ad"/>
<use href="#mpin" x="631" y="1369"/><use href="#mpin" x="631" y="1397"/>
<rect x="708" y="1335" width="75" height="98" fill="#f5e6d8" stroke="#a39588" stroke-width="1.5"/><rect x="720" y="1344" width="57" height="84" fill="#c7b9ad"/>
<use href="#mpin" x="749" y="1369"/><use href="#mpin" x="749" y="1397"/>
<rect class="yb" x="670" y="1337" width="15" height="28"/><text class="bx" font-size="11" text-anchor="middle" transform="translate(673,1351) rotate(90)">CN8</text>
<rect class="yb" x="688" y="1337" width="17" height="95"/><text class="bx" font-size="13" text-anchor="middle" transform="translate(692,1384) rotate(90)">POWER-SW</text>
<rect class="yb" x="787" y="1337" width="15" height="26"/><text class="bx" font-size="12" text-anchor="middle" transform="translate(790,1350) rotate(90)">S1</text>
<rect class="yb" x="803" y="1337" width="19" height="106"/><text class="bx" font-size="13" text-anchor="middle" textLength="100" transform="translate(807,1390) rotate(90)">Emergence-SW</text>
<rect class="yb" x="823" y="1357" width="17" height="31"/><text class="bx" font-size="12" text-anchor="middle" transform="translate(827,1372.5) rotate(90)">CN7</text>
<rect class="yb" x="588" y="1434" width="19" height="14"/><text class="bx" x="597.5" y="1446" text-anchor="middle" font-size="14">+</text>
<rect x="585" y="1448" width="213" height="187" rx="14" fill="url(#xt)"/><rect x="585" y="1448" width="30" height="187" fill="url(#xt)"/>
<rect x="722" y="1485" width="21" height="107" fill="#ee9e10" stroke="#e08a0a" stroke-width="2"/>
<rect x="757" y="1468" width="10" height="34" rx="2" fill="#e3890b"/><rect x="757" y="1577" width="10" height="31" rx="2" fill="#e3890b"/>
<line x1="775" y1="1450" x2="775" y2="1633" stroke="#7a4a00" stroke-width="1.5"/><line x1="779" y1="1450" x2="779" y2="1633" stroke="#7a4a00" stroke-width="1"/>
<rect x="748" y="1448" width="8" height="9" fill="#333"/><rect x="748" y="1626" width="8" height="9" fill="#333"/>
<rect class="yb" x="588" y="1635" width="19" height="15"/><rect x="595" y="1638" width="4" height="8" fill="#111"/>
<text class="pk" x="653" y="1652" font-size="15">CN15</text>
<rect class="yb" x="612" y="1655" width="130" height="20"/><text class="bx" x="677" y="1671" text-anchor="middle" font-size="17">Power Input</text>
<rect class="yb" x="612" y="1678" width="130" height="20"/><text class="bx" x="677" y="1694" text-anchor="middle" font-size="17">DC 9V~36V</text>
<rect x="812" y="1447" width="6" height="147" rx="3" fill="#e3a81a"/><text class="pk" x="813" y="1616" font-size="14">F1</text>
<circle cx="833" cy="1457" r="13" fill="#e8e8e8" stroke="#999" stroke-width="2"/><line x1="820" y1="1457" x2="846" y2="1457" stroke="#444" stroke-width="3"/>
<circle cx="833" cy="1487" r="13" fill="#e8e8e8" stroke="#999" stroke-width="2"/><circle cx="833" cy="1487" r="5" fill="#fff"/>
<circle cx="833" cy="1547" r="13" fill="#e8e8e8" stroke="#999" stroke-width="2"/><circle cx="833" cy="1547" r="5" fill="#fff"/>
<circle cx="833" cy="1577" r="13" fill="#e8e8e8" stroke="#999" stroke-width="2"/><line x1="820" y1="1577" x2="846" y2="1577" stroke="#444" stroke-width="3"/>

<!-- bottom center -->
<use href="#c" transform="translate(835,1309) rotate(90)"/><text class="pk" transform="translate(828,1325) rotate(-90)">C55</text>
<rect x="855" y="1272" width="68" height="67" fill="#d2d2d2" stroke="#aaa" stroke-width="1.5"/>
<g transform="rotate(180 889 1305)" font-family="Liberation Serif, serif" font-size="20" fill="#111" text-anchor="middle"><text x="889" y="1299">3R3</text><text x="889" y="1318">1920</text></g>
<text class="pk" x="831" y="1347" font-size="14">L2</text>
<use href="#c" x="928" y="1360"/><use href="#c" x="928" y="1380"/><text class="pk" x="878" y="1366" font-size="14">C57</text><text class="pk" x="878" y="1386" font-size="14">C56</text>
<rect x="948" y="1269" width="131" height="128" fill="none" stroke="#e6b820" stroke-width="2"/>
<path d="M952,1272 H1055 L1075,1292 V1373 L1055,1393 H952 Z" fill="#8a8a8a" stroke="#d0d0d0" stroke-width="2"/>
<circle cx="1014" cy="1333" r="60" fill="#fff" stroke="#1a1a1a" stroke-width="3"/>
<path d="M990,1278 A60,60 0 0,0 990,1388 Z" fill="#000"/>
<rect x="998" y="1305" width="7" height="7" fill="none" stroke="#8d8d8d" stroke-width="1.5"/>
<g font-family="Liberation Sans, sans-serif" font-size="28" fill="#8d8d8d"><text x="1008" y="1316">53Y</text><text x="997" y="1346">2200</text><text x="997" y="1378">50v</text></g>
<text class="pk" x="1067" y="1284" font-size="14">C23</text>
<rect x="830" y="1397" width="20" height="20" fill="#8e8e8e"/><circle cx="840" cy="1407" r="5" fill="#ccc"/>
<circle cx="870" cy="1407" r="10" fill="#8e8e8e"/><circle cx="870" cy="1407" r="5" fill="#d0d0d0"/>
<circle cx="870" cy="1442" r="10" fill="#fff" stroke="#888" stroke-width="3"/>
<rect x="892" y="1432" width="18" height="18" fill="#fff" stroke="#888" stroke-width="2"/>
<rect class="yb" x="894" y="1409" width="18" height="14"/><text class="bx" x="903" y="1421" text-anchor="middle">J1</text>
<text class="pk" x="921" y="1419" font-size="14">R20</text><use href="#r" x="935" y="1427"/>
<use href="#c" transform="translate(926,1462) rotate(90)"/><use href="#r" transform="translate(943,1462) rotate(90)"/><text class="pk" x="891" y="1480" font-size="14">C24</text>
<text class="pk" x="964" y="1462" font-size="14">19</text><circle cx="971" cy="1405" r="3" fill="#f5d80a"/>
<rect x="958" y="1418" width="14" height="7" fill="#8a8a8a"/><rect x="976" y="1418" width="17" height="8" fill="#fff"/>
<rect x="958" y="1472" width="14" height="7" fill="#8a8a8a"/><rect x="976" y="1472" width="17" height="8" fill="#fff"/><rect x="987" y="1446" width="6" height="8" fill="#fff"/>
<rect x="993" y="1413" width="75" height="73" fill="#3e3e3e"/><rect x="1068" y="1420" width="17" height="58" fill="#8f8f8f" stroke="#bbb" stroke-width="1.5"/>
<text class="pk" x="1060" y="1506" font-size="14">Q4</text>
<line x1="1086" y1="1395" x2="1102" y2="1395" stroke="#e4b421" stroke-width="2"/><line x1="1086" y1="1402" x2="1102" y2="1402" stroke="#e4b421" stroke-width="2"/><text class="pk" x="1086" y="1421" font-size="14">D7</text>
<text class="pk" x="863" y="1486" font-size="14">Q3</text>
<rect x="863" y="1497" width="17" height="60" fill="#8f8f8f" stroke="#bbb" stroke-width="1.5"/><rect x="880" y="1490" width="73" height="74" fill="#3e3e3e"/>
<rect x="954" y="1496" width="18" height="8" fill="#fff"/><rect x="975" y="1496" width="12" height="7" fill="#8a8a8a"/>
<rect x="954" y="1550" width="18" height="8" fill="#fff"/><rect x="975" y="1550" width="12" height="7" fill="#8a8a8a"/><rect x="954" y="1524" width="7" height="8" fill="#fff"/>
<text class="pk" x="963" y="1530" font-size="14">R49</text>
<use href="#r" transform="translate(1000,1515) rotate(90)"/><use href="#c" transform="translate(1018,1515) rotate(90)"/><text class="pk" transform="translate(1040,1530) rotate(-90)">C63</text>
<use href="#r" x="1008" y="1550"/><text class="pk" x="1027" y="1556" font-size="14">R50</text>
<use href="#c" transform="translate(868,1604) rotate(90)"/><text class="pk" x="857" y="1638" font-size="14">C25</text>
<rect x="888" y="1570" width="25" height="33" fill="#3a3a3a"/><rect x="945" y="1570" width="25" height="33" fill="#3a3a3a"/><rect x="1001" y="1570" width="25" height="33" fill="#3a3a3a"/>
<path d="M900,1577 V1646 M957,1577 V1646 M1014,1577 V1646" stroke="#cfcfcf" stroke-width="5" stroke-linecap="round"/>
<text class="pk" x="973" y="1638" font-size="15">S2</text>
<rect x="883" y="1644" width="148" height="21" fill="#3a3a3a"/>
<rect x="880" y="1663" width="153" height="58" fill="#f4f4f4"/><rect x="880" y="1710" width="153" height="11" fill="#e2e2e2"/>
<ellipse cx="914" cy="1681" rx="17" ry="9.5" fill="#3a3a3a"/><ellipse cx="1003" cy="1681" rx="17" ry="9.5" fill="#3a3a3a"/>
<path d="M949,1663 H965 V1670 A8,8 0 0,1 949,1670 Z" fill="#3a3a3a"/>
<rect x="935" y="1721" width="45" height="37" fill="#0d0d0d"/>
<rect class="yb" x="837" y="1698" width="41" height="21"/><text class="bx" x="857.5" y="1715" text-anchor="middle" font-size="17">OFF</text>
<rect class="yb" x="1036" y="1672" width="47" height="21"/><text class="bx" x="1059.5" y="1689" text-anchor="middle" font-size="17">PWR</text>
<rect class="yb" x="1036" y="1697" width="47" height="21"/><text class="bx" x="1059.5" y="1714" text-anchor="middle" font-size="17">ON</text>
<circle cx="1123" cy="1673" r="8" fill="none" stroke="#9a9a9a" stroke-width="4"/>
<rect x="1114" y="1694" width="18" height="18" fill="#9a9a9a"/><circle cx="1123" cy="1703" r="5" fill="#333"/>
<rect class="yb" x="1142" y="1697" width="19" height="16"/><text class="bx" x="1151.5" y="1710" text-anchor="middle" font-size="12">J2</text>
<rect x="1299" y="1668" width="130" height="47" fill="#e9bb1e"/>
<text x="1307" y="1707" font-family="Liberation Sans, sans-serif" font-weight="bold" font-size="42" fill="#111" textLength="115" lengthAdjust="spacingAndGlyphs">INIKI</text>

<!-- ================= CALLOUT LINES ================= -->
<g fill="none" stroke="#fff" stroke-width="7">
<path d="M703 182 V632 M828 233 V744 M985 182 V656 M1407 272 V641 M1238 423 V641 M1064 483 V701 M853 526 V623 M896 526 V623"/>
<path d="M426 694 H570 M423 807 H570 M521 896 H464 V1049 H521 M521 1118 H464 V1272 H521"/>
<path d="M422 1382 H612 M422 1413 H721 M422 1532 H663"/>
<path d="M1360 862 H1611 V1605 H1370 M1370 1095 H1611 M1370 1364 H1611"/>
<path d="M785 1677 V1778 H1472 V1674 M958 1754 V1810"/>
</g>
<g fill="none" stroke="#000" stroke-width="3">
<path d="M703 182 V632 M828 233 V744 M985 182 V656 M1407 272 V641 M1238 423 V641 M1064 483 V701 M853 526 V623 M896 526 V623"/>
<path d="M426 694 H570 M423 807 H570 M521 896 H464 V1049 H521 M521 1118 H464 V1272 H521"/>
<path d="M422 1382 H612 M422 1413 H721 M422 1532 H663"/>
<path d="M1360 862 H1611 V1605 H1370 M1370 1095 H1611 M1370 1364 H1611"/>
<path d="M785 1677 V1778 H1472 V1674 M958 1754 V1810"/>
</g>
<use href="#dot" x="703" y="632"/><use href="#dot" x="828" y="744"/><use href="#dot" x="985" y="656"/><use href="#dot" x="1407" y="641"/>
<use href="#dot" x="1238" y="641"/><use href="#dot" x="1064" y="701"/><use href="#dot" x="853" y="623"/><use href="#dot" x="896" y="623"/>
<use href="#dot" x="570" y="694"/><use href="#dot" x="570" y="807"/><use href="#dot" x="521" y="896"/><use href="#dot" x="521" y="1049"/>
<use href="#dot" x="521" y="1118"/><use href="#dot" x="521" y="1272"/><use href="#dot" x="612" y="1382"/><use href="#dot" x="721" y="1413"/>
<use href="#dot" x="663" y="1532"/><use href="#dot" x="1360" y="862"/><use href="#dot" x="1370" y="1095"/><use href="#dot" x="1370" y="1364"/>
<use href="#dot" x="1370" y="1605"/><use href="#dot" x="785" y="1677"/><use href="#dot" x="1472" y="1674"/><use href="#dot" x="958" y="1754"/>

<!-- +/- boxes -->
<g fill="#fff" stroke="#000" stroke-width="3">
<rect x="542" y="878" width="37" height="78"/><rect x="542" y="983" width="37" height="78"/>
<rect x="542" y="1092" width="37" height="78"/><rect x="542" y="1198" width="37" height="78"/></g>
<g font-family="Liberation Sans, sans-serif" font-size="40" fill="#000" text-anchor="middle">
<text x="560.5" y="910">-</text><text x="560.5" y="947">+</text>
<text x="560.5" y="1015">-</text><text x="560.5" y="1054">+</text>
<text x="560.5" y="1124">-</text><text x="560.5" y="1163">+</text>
<text x="560.5" y="1230">-</text><text x="560.5" y="1269">+</text></g>

<!-- ================= LABELS ================= -->
<g class="lb" font-size="42">
<text x="660" y="162" textLength="85">喇叭</text>
<text x="792" y="162" textLength="81">擴充</text>
<text x="809" y="212" font-size="40" textLength="46">IO</text>
<text x="914" y="162" textLength="171">模式切換</text>
<text x="1140" y="195" textLength="529">SDWIO / SWCLK 燒錄腳位</text>
<text x="1181" y="243" textLength="460">( 使用 STLINK 燒錄器 )</text>
<text x="1137" y="340" font-size="44" textLength="198">SPI OLED</text>
<text x="1200" y="389" textLength="84">顯示</text>
<text x="998" y="462" textLength="173">加速度計</text>
<g font-size="37" text-anchor="middle"><text x="854" y="358">保</text><text x="854" y="394">留</text><text x="854" y="430">按</text><text x="854" y="466">鍵</text>
<text x="897" y="477">按</text><text x="897" y="513">鍵</text></g>
<text font-size="40" textLength="115" transform="translate(882,328) rotate(90)">RESET</text>
<text x="191" y="705" textLength="217">狀態指示燈</text>
<text x="85" y="825" font-size="44" textLength="324">USB UART port</text>
<text x="213" y="1048" font-size="43" textLength="193">5V/4Ax2</text>
<text x="224" y="1097" textLength="180">電源輸出</text>
<text x="69" y="1384" textLength="339">電源開關(外接用)</text>
<text x="25" y="1449" textLength="383">緊急停止開關(斷電)</text>
<text x="60" y="1553" textLength="348">輸入電壓:8V~30V</text>
<text x="1650" y="1189" textLength="311">可控制馬達x4顆</text>
<text x="1650" y="1245" textLength="170">帶編碼器</text>
<text x="1548" y="1703" textLength="189">板子孔洞:</text>
<text x="1548" y="1761" textLength="369">相容Jetson nano</text>
<text x="1548" y="1819" textLength="424">跟Raspberry Pi孔位</text>
<text x="872" y="1855" textLength="168">電源開關</text>
</g>
</svg>
</body></html>
